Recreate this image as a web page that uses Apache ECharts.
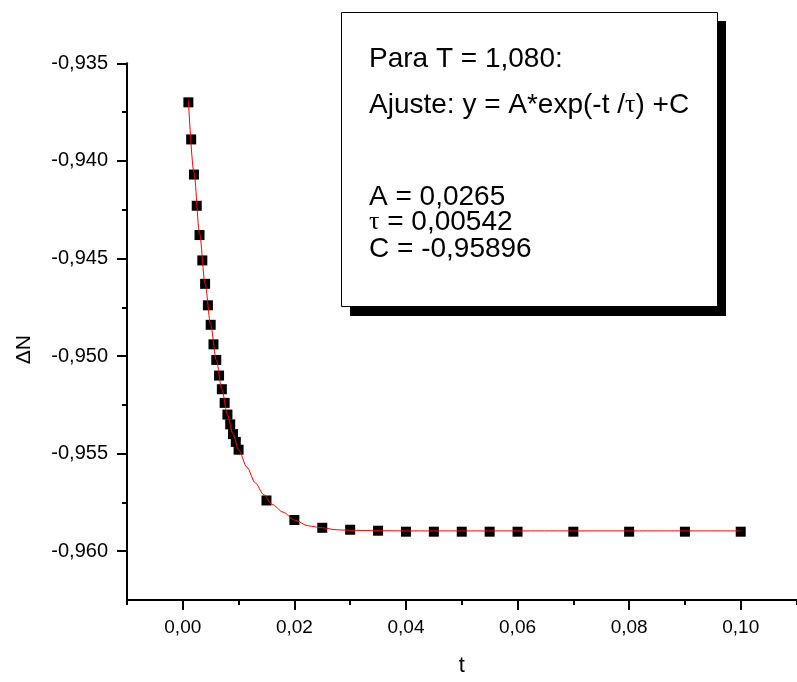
<!DOCTYPE html>
<html>
<head>
<meta charset="utf-8">
<script src="https://cdn.jsdelivr.net/npm/echarts@6/dist/echarts.min.js"></script>
<style>
  html, body { margin: 0; padding: 0; background: #fff; }
  #chart { width: 797px; height: 682px; }
</style>
</head>
<body>
<div id="chart"></div>
<script>
// 测量点
var tValues = [0.001, 0.0015, 0.002, 0.0025, 0.003, 0.0035, 0.004, 0.0045, 0.005, 0.0055,
  0.006, 0.0065, 0.007, 0.0075, 0.008, 0.0085, 0.009, 0.0095, 0.01,
  0.015, 0.02, 0.025, 0.03, 0.035, 0.04, 0.045, 0.05, 0.055, 0.06, 0.07, 0.08, 0.09, 0.1];
var dnValues = [-0.9370, -0.9389, -0.9407, -0.9423, -0.9438, -0.9451, -0.9463, -0.9474, -0.9484, -0.9494,
  -0.9502, -0.9510, -0.9517, -0.9524, -0.9530, -0.9535, -0.9540, -0.9544, -0.9548,
  -0.9574, -0.9584, -0.9588, -0.9589, -0.95895, -0.9590, -0.9590, -0.9590, -0.9590, -0.9590, -0.9590, -0.9590, -0.9590, -0.9590];

// 拟合曲线
var fitT = [0.001, 0.002, 0.003, 0.004, 0.005, 0.006, 0.007, 0.008, 0.009, 0.010,
  0.0115, 0.013, 0.0145, 0.016, 0.018, 0.020, 0.0225, 0.025, 0.0275, 0.030, 0.035, 0.040, 0.050, 0.060, 0.080, 0.100];
var fitY = [-0.9369, -0.9406, -0.9437, -0.9463, -0.9484, -0.9502, -0.9517, -0.9530, -0.9540, -0.9548,
  -0.9557, -0.9565, -0.9571, -0.9576, -0.9580, -0.9584, -0.9587, -0.9588, -0.9589, -0.95893, -0.95895, -0.95896, -0.95896, -0.95896, -0.95896, -0.95896];

var xMajorTicks = [0, 0.02, 0.04, 0.06, 0.08, 0.10];
var xMinorTicks = [-0.01, 0.01, 0.03, 0.05, 0.07, 0.09, 0.11];
var yMajorTicks = [-0.960, -0.955, -0.950, -0.945, -0.940, -0.935];
var yMinorTicks = [-0.9575, -0.9525, -0.9475, -0.9425, -0.9375];

var boxLines = [
  'Para T = 1,080:',
  '{n|Ajuste: y = A*exp(-t /}{s|τ}{n|) +C}',
  'A = 0,0265',
  '{s|τ}{n| = 0,00542}',
  'C = -0,95896'
];
var boxLineY = [59, 105, 197, 222, 249];

var points = [];
for (var i = 0; i < tValues.length; i++) {
  points.push([tValues[i], dnValues[i]]);
}
var fitPoints = [];
for (var j = 0; j < fitT.length; j++) {
  fitPoints.push([fitT[j], fitY[j]]);
}

var font = 'Liberation Sans, Arial, sans-serif';
var axisColor = '#000';

var chart = echarts.init(document.getElementById('chart'));

var graphics = [
  { type: 'rect', shape: { x: 350, y: 21, width: 376, height: 295 }, style: { fill: '#000' }, z: 10 },
  { type: 'rect', shape: { x: 341.5, y: 12.5, width: 376, height: 294 }, style: { fill: '#fff', stroke: '#000', lineWidth: 1 }, z: 11 }
];
boxLines.forEach(function (line, idx) {
  graphics.push({
    type: 'text', x: 369, y: boxLineY[idx], z: 12,
    style: {
      text: line,
      font: '28px ' + font,
      fill: '#000',
      verticalAlign: 'middle',
      rich: {
        n: { fontSize: 28, fontFamily: font, fill: '#000' },
        s: { fontSize: 26, fontFamily: 'Liberation Serif, serif', fill: '#000' }
      }
    }
  });
});

chart.setOption({
  animation: false,
  grid: { left: 127, right: 0.5, top: 63.3, bottom: 78.7 },
  xAxis: [
    {
      type: 'value', min: -0.01, max: 0.11,
      name: 't', nameLocation: 'middle', nameGap: 55,
      nameTextStyle: { fontSize: 22, fontFamily: font, color: '#000' },
      axisLine: { onZero: false, lineStyle: { color: axisColor, width: 2 } },
      axisTick: { customValues: xMajorTicks, length: 10, lineStyle: { color: axisColor, width: 2 } },
      axisLabel: {
        customValues: xMajorTicks, margin: 18, fontSize: 19, fontFamily: font, color: '#000',
        formatter: function (v) { return v.toFixed(2).replace('.', ','); }
      },
      splitLine: { show: false }
    },
    {
      type: 'value', min: -0.01, max: 0.11, position: 'bottom',
      axisLine: { show: false, onZero: false },
      axisTick: { customValues: xMinorTicks, length: 5, lineStyle: { color: axisColor, width: 2 } },
      axisLabel: { show: false },
      splitLine: { show: false }
    }
  ],
  yAxis: [
    {
      type: 'value', min: -0.9625, max: -0.935,
      name: 'ΔN', nameLocation: 'middle', nameGap: 92, nameRotate: 90,
      nameTextStyle: { fontSize: 21, fontFamily: font, color: '#000', padding: [0, 36, 0, 0] },
      axisLine: { onZero: false, lineStyle: { color: axisColor, width: 2 } },
      axisTick: { customValues: yMajorTicks, length: 10, lineStyle: { color: axisColor, width: 2 } },
      axisLabel: {
        customValues: yMajorTicks, margin: 19, fontSize: 20, fontFamily: font, color: '#000',
        formatter: function (v) { return v.toFixed(3).replace('.', ','); }
      },
      splitLine: { show: false }
    },
    {
      type: 'value', min: -0.9625, max: -0.935, position: 'left',
      axisLine: { show: false, onZero: false },
      axisTick: { customValues: yMinorTicks, length: 5, lineStyle: { color: axisColor, width: 2 } },
      axisLabel: { show: false },
      splitLine: { show: false }
    }
  ],
  series: [
    {
      name: 'data', type: 'scatter', data: points,
      symbol: 'rect', symbolSize: 10,
      itemStyle: { color: '#000', opacity: 1 }, z: 2
    },
    {
      name: 'fit', type: 'line', data: fitPoints,
      smooth: 0.3, smoothMonotone: 'x', showSymbol: false, symbol: 'none',
      lineStyle: { color: '#ff0000', width: 1 }, z: 3
    }
  ],
  graphic: graphics
});
</script>
</body>
</html>
